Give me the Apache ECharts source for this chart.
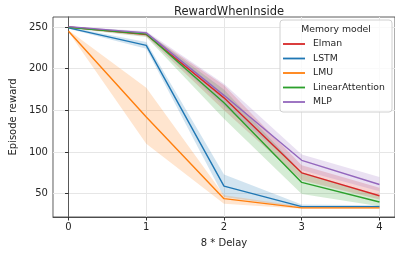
<!DOCTYPE html>
<html>
<head>
<meta charset="utf-8">
<script src="https://cdn.jsdelivr.net/npm/echarts@6/dist/echarts.min.js"></script>
<style>
  html, body { margin: 0; padding: 0; background: #fff; }
  #main { width: 395px; height: 253px; }
</style>
</head>
<body>
<div id="main"></div>
<script>
// x = 8 * Delay
var delays = [0, 1, 2, 3, 4];
var tickValuesX = [0, 1, 2, 3, 4];
var tickValuesY = [50, 100, 150, 200, 250];

var models = ["Elman", "LSTM", "LMU", "LinearAttention", "MLP"];
var colors = ["#d62728", "#1f77b4", "#ff7f0e", "#2ca02c", "#9467bd"];

// mean episode reward
var elmanMean = [250, 241, 165, 75, 47.5];
var lstmMean = [249, 228, 59, 34.5, 34.5];
var lmuMean = [245, 142, 44, 33, 33];
var linAttMean = [249.5, 241.5, 159, 63.5, 40];
var mlpMean = [250.5, 243, 168, 90, 61];

// shaded band (lower / upper)
var elmanLo = [249, 239, 150, 66, 43];
var elmanHi = [250.5, 243, 180, 84, 57];
var lstmLo = [248, 224, 46, 33, 33];
var lstmHi = [250, 232, 73, 37, 36];
var lmuLo = [244, 110, 38, 32, 32];
var lmuHi = [246, 177, 48, 34.5, 34.5];
var linAttLo = [248.5, 238, 140, 49.5, 35];
var linAttHi = [250.5, 244, 175, 76, 47];
var mlpLo = [250, 241, 155, 78, 53];
var mlpHi = [251, 245, 182, 97, 70];

var means = [elmanMean, lstmMean, lmuMean, linAttMean, mlpMean];
var los = [elmanLo, lstmLo, lmuLo, linAttLo, mlpLo];
var his = [elmanHi, lstmHi, lmuHi, linAttHi, mlpHi];

var font = "DejaVu Sans";
var textColor = "#262626";

function hexAlpha(hex, a) {
  var r = parseInt(hex.slice(1, 3), 16);
  var g = parseInt(hex.slice(3, 5), 16);
  var b = parseInt(hex.slice(5, 7), 16);
  return "rgba(" + r + "," + g + "," + b + "," + a + ")";
}

var series = [];
// bands: one polygon per model, upper edge then lower edge back
models.forEach(function (name, i) {
  series.push({
    type: "custom",
    silent: true,
    z: 1,
    data: delays.map(function (x, j) { return [x, means[i][j]]; }),
    renderItem: function (params, api) {
      if (params.dataIndex !== 0) return null;
      var pts = [];
      delays.forEach(function (x, j) { pts.push(api.coord([x, his[i][j]])); });
      for (var j = delays.length - 1; j >= 0; j--) pts.push(api.coord([delays[j], los[i][j]]));
      return {
        type: "polygon",
        shape: { points: pts },
        style: { fill: hexAlpha(colors[i], 0.2), stroke: null }
      };
    }
  });
});
// mean lines
models.forEach(function (name, i) {
  series.push({
    name: name,
    type: "line",
    data: delays.map(function (x, j) { return [x, means[i][j]]; }),
    symbol: "none",
    lineStyle: { color: colors[i], width: 1.4 },
    itemStyle: { color: colors[i] },
    z: 2 + i
  });
});

var chart = echarts.init(document.getElementById("main"));
var option = {
  animation: false,
  backgroundColor: "#fff",
  title: {
    text: "RewardWhenInside",
    left: 224,
    textAlign: "center",
    top: 1,
    textStyle: { fontFamily: font, fontSize: 11.5, fontWeight: "normal", color: textColor }
  },
  grid: {
    left: 51,
    top: 17,
    width: 347,
    height: 206,
    show: true,
    borderColor: "#333",
    borderWidth: 0.8,
    backgroundColor: "transparent"
  },
  xAxis: {
    type: "value",
    min: -0.2,
    max: 4.2,
    name: "8 * Delay",
    nameLocation: "middle",
    nameGap: 21,
    nameTextStyle: { fontFamily: font, fontSize: 10, color: textColor },
    axisLine: { show: true, lineStyle: { color: "#333", width: 0.8 } },
    axisTick: { show: true, length: 3.5, customValues: tickValuesX, lineStyle: { color: "#333" } },
    axisLabel: { customValues: tickValuesX, margin: 5, fontFamily: font, fontSize: 10, color: textColor },
    splitLine: { show: true, customValues: tickValuesX, lineStyle: { color: "#e6e6e6", width: 1 } }
  },
  yAxis: {
    type: "value",
    min: 22,
    max: 262,
    name: "Episode reward",
    nameLocation: "middle",
    nameGap: 34,
    nameTextStyle: { fontFamily: font, fontSize: 10, color: textColor },
    axisLine: { show: true, lineStyle: { color: "#333", width: 0.8 } },
    axisTick: { show: true, length: 3.5, customValues: tickValuesY, lineStyle: { color: "#333" } },
    axisLabel: { customValues: tickValuesY, margin: 5, fontFamily: font, fontSize: 10, color: textColor },
    splitLine: { show: true, customValues: tickValuesY, lineStyle: { color: "#e6e6e6", width: 1 } }
  },
  legend: {
    data: models,
    orient: "vertical",
    left: 283,
    top: 39,
    padding: 0,
    icon: "rect",
    itemWidth: 22,
    itemHeight: 1.8,
    itemGap: 4.5,
    z: 20,
    textStyle: { fontFamily: font, fontSize: 9.3, lineHeight: 10, color: textColor, padding: [0, 0, 0, 3] }
  },
  graphic: [
    {
      type: "rect",
      z: 10,
      shape: { x: 280, y: 20, width: 112, height: 92, r: 3 },
      style: { fill: "rgba(255,255,255,0.8)", stroke: "#d0d0d0", lineWidth: 1 }
    },
    {
      type: "text",
      z: 11,
      x: 336,
      y: 30,
      style: {
        text: "Memory model",
        fontFamily: font,
        fontSize: 9.3,
        fill: textColor,
        align: "center",
        verticalAlign: "middle"
      }
    }
  ],
  series: series
};
chart.setOption(option);
</script>
</body>
</html>
